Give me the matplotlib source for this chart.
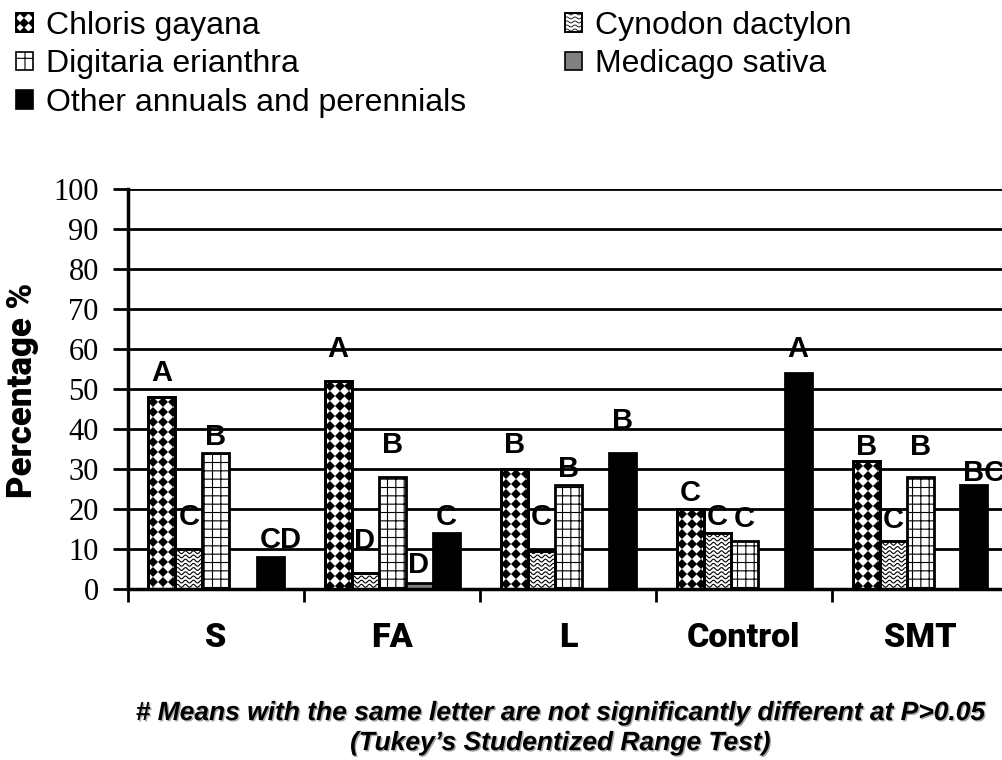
import numpy as np
import matplotlib
matplotlib.use('Agg')
import matplotlib.pyplot as plt
import matplotlib.patheffects as pe
from matplotlib.patches import Rectangle, Patch
from matplotlib.lines import Line2D
from matplotlib.legend_handler import HandlerBase

# data (percentage cover)
treatments = ['S', 'FA', 'L', 'Control', 'SMT']
species = ['Chloris gayana', 'Cynodon dactylon', 'Digitaria erianthra',
           'Medicago sativa', 'Other annuals and perennials']

chloris = [48, 52, 30, 20, 32]
cynodon = [10, 4, 9.5, 14, 12]
digitaria = [34, 28, 26, 12, 28]
medicago = [0, 1.5, 0, 0, 0]
other = [8, 14, 34, 54, 26]

# Tukey letters
chloris_sig = ['A', 'A', 'B', 'C', 'B']
cynodon_sig = ['C', 'D', 'C', 'C', 'C']
digitaria_sig = ['B', 'B', 'B', 'C', 'B']
medicago_sig = ['', 'D', '', '', '']
other_sig = ['CD', 'C', 'B', 'A', 'BC']

# height where each letter sits
chloris_lab = [54, 60, 36, 24, 35.5]
cynodon_lab = [18, 12, 18, 18, 17.3]
digitaria_lab = [38, 36, 30, 17.5, 35.5]
medicago_lab = [0, 6, 0, 0, 0]
other_lab = [12.3, 18, 42, 60, 29]

plt.rcParams['font.family'] = 'Liberation Sans'
plt.rcParams['hatch.linewidth'] = 0.8

PX_X = 1 / 176.0   # one pixel in x data units
PX_Y = 1 / 4.0     # one pixel in y data units


def diamonds(ax, rect):
    # checkerboard of black diamonds
    x0, w, h = rect.get_x(), rect.get_width(), rect.get_height()
    xs, ys = [], []
    for yy in np.arange(h - 5 * PX_Y, -10 * PX_Y, -10 * PX_Y):
        for xx in np.arange(x0 + 5 * PX_X, x0 + w + 10 * PX_X, 10 * PX_X):
            xs.append(xx)
            ys.append(yy)
    ln, = ax.plot(xs, ys, 'D', ms=4.7, mew=0, color='black', zorder=2.1)
    ln.set_clip_path(rect)


def waves(ax, rect):
    x0, w, h = rect.get_x(), rect.get_width(), rect.get_height()
    xx = np.linspace(x0, x0 + w, 80)
    for yy in np.arange(0.8, h, 1.05):
        ln, = ax.plot(xx, yy + 0.35 * np.sin(2 * np.pi * (xx - x0) / (8 * PX_X)),
                      color='black', lw=0.8, zorder=2.1)
        ln.set_clip_path(rect)


class PatternHandler(HandlerBase):
    def __init__(self, kind):
        super().__init__()
        self.kind = kind

    def create_artists(self, legend, orig_handle, xdescent, ydescent,
                       width, height, fontsize, trans):
        x0, y0 = -xdescent, -ydescent
        box = Rectangle((x0, y0), width, height, facecolor='white',
                        edgecolor='black', lw=1.2, transform=trans)
        arts = [box]
        if self.kind == 'diamond':
            xs, ys = [], []
            for yy in np.linspace(y0, y0 + height, 3):
                for xx in np.linspace(x0, x0 + width, 3):
                    xs.append(xx)
                    ys.append(yy)
            ln = Line2D(xs, ys, marker='D', ls='none', ms=5.2, mew=0,
                        color='black', transform=trans)
            ln.set_clip_path(box)
            arts.append(ln)
        else:
            xx = np.linspace(x0, x0 + width, 40)
            for yy in np.arange(y0 + 1.5, y0 + height, 2.9):
                ln = Line2D(xx, yy + 0.7 * np.sin(2 * np.pi * (xx - x0) / 5.8),
                            color='black', lw=0.6, transform=trans)
                ln.set_clip_path(box)
                arts.append(ln)
        edge = Rectangle((x0, y0), width, height, fill=False,
                         edgecolor='black', lw=1.2, transform=trans)
        arts.append(edge)
        return arts


fig = plt.figure(figsize=(10.03, 7.6), dpi=100)
ax = fig.add_axes([128 / 1003, 171 / 760, 880 / 1003, 400 / 760])

x = np.arange(len(treatments))
w = 27 / 176.0
series = [chloris, cynodon, digitaria, medicago, other]
sigs = [chloris_sig, cynodon_sig, digitaria_sig, medicago_sig, other_sig]
labs = [chloris_lab, cynodon_lab, digitaria_lab, medicago_lab, other_lab]
faces = ['white', 'white', 'white', '#808080', 'black']
hatches = [None, None, '++', None, None]

for i, vals in enumerate(series):
    pos = x + (i - 2) * w
    bars = ax.bar(pos, vals, w, color=faces[i], edgecolor='black', lw=2,
                  hatch=hatches[i], zorder=2)
    if i == 0:
        for r in bars:
            diamonds(ax, r)
    if i == 1:
        for r in bars:
            waves(ax, r)
    if i < 2:
        ax.bar(pos, vals, w, fill=False, edgecolor='black', lw=2, zorder=2.2)
    for k in range(len(treatments)):
        if sigs[i][k]:
            ax.text(pos[k] - w / 2 + 3 * PX_X, labs[i][k], sigs[i][k],
                    ha='left', va='center', fontsize=21, fontweight='bold',
                    zorder=3)

ax.set_xlim(-0.5, 4.5)
ax.set_ylim(0, 100)
ax.set_yticks(range(0, 101, 10))
ax.set_yticklabels([str(v) for v in range(0, 101, 10)],
                   family='Liberation Serif', fontsize=22)
ax.tick_params(axis='y', length=11, width=2, direction='out', pad=10)
ax.set_xticks(np.arange(-0.5, 5, 1))
ax.set_xticklabels([])
ax.tick_params(axis='x', which='major', length=9, width=2, direction='out')
ax.set_xticks(x, minor=True)
ax.set_xticklabels(treatments, minor=True, family='Roboto',
                   fontweight='heavy', fontsize=24.5)
ax.tick_params(axis='x', which='minor', length=0, pad=24)
ax.yaxis.grid(True, color='black', lw=2)
ax.set_axisbelow(True)
for s in ['top', 'right']:
    ax.spines[s].set_visible(False)
ax.spines['left'].set_linewidth(2.5)
ax.spines['bottom'].set_linewidth(2.5)

fig.text(23 / 1003, 1 - 390 / 760, 'Percentage %', rotation=90,
         ha='center', va='center', family='Roboto', fontweight='heavy',
         fontsize=25)

# legend, filled column by column
h_chl = Patch(facecolor='white', edgecolor='black')
h_cyn = Patch(facecolor='white', edgecolor='black')
h_dig = Patch(facecolor='white', edgecolor='black', hatch='+', lw=1.2)
h_med = Patch(facecolor='#808080', edgecolor='black', lw=1.2)
h_oth = Patch(facecolor='black', edgecolor='black', lw=1.2)
fig.legend([h_chl, h_dig, h_oth, h_cyn, h_med],
           [species[0], species[2], species[4], species[1], species[3]],
           handler_map={h_chl: PatternHandler('diamond'),
                        h_cyn: PatternHandler('wave')},
           loc='upper left', bbox_to_anchor=(16 / 1003, 1 - 11 / 760),
           ncol=2, frameon=False, fontsize=23, borderpad=0, borderaxespad=0,
           handlelength=0.53, handleheight=0.53, handletextpad=0.4,
           labelspacing=0.26, columnspacing=3.1)

shadow = [pe.withSimplePatchShadow(offset=(1, -1), shadow_rgbFace='0.5',
                                   alpha=0.7)]
fig.text(560 / 1003, 1 - 713 / 760,
         '# Means with the same letter are not significantly different at P>0.05',
         ha='center', va='center', fontsize=19, fontweight='bold',
         style='italic', path_effects=shadow)
fig.text(560 / 1003, 1 - 743 / 760, '(Tukey\u2019s Studentized Range Test)',
         ha='center', va='center', fontsize=19, fontweight='bold',
         style='italic', path_effects=shadow)

fig.savefig('out.png', dpi=100)
